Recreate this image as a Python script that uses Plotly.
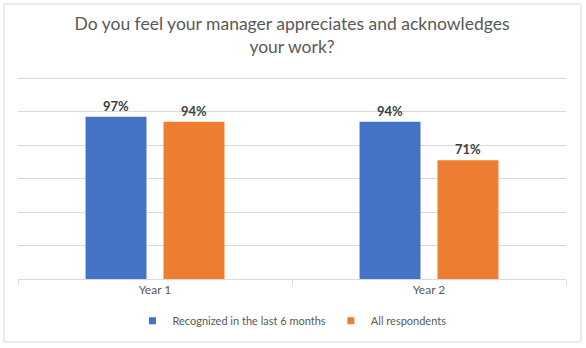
import plotly.graph_objects as go

# Survey results: share answering "yes", by year and respondent group
years = ["Year 1", "Year 2"]
series_names = ["Recognized in the last 6 months", "All respondents"]
recognized = [97, 94]
all_respondents = [94, 71]
series_values = [recognized, all_respondents]
series_colors = ["#4472C4", "#ED7D31"]

title_text = "Do you feel your manager appreciates and acknowledges<br>your work?"

fig = go.Figure()

for name, vals, color in zip(series_names, series_values, series_colors):
    fig.add_trace(go.Bar(
        x=years,
        y=vals,
        name=name,
        marker=dict(color=color, line=dict(width=0)),
        texttemplate="%{y}%",
        textposition="outside",
        textfont=dict(family="Lato", size=13, color="#404040", weight="bold"),
        cliponaxis=False,
        showlegend=False,
        hoverinfo="skip",
    ))

# Small square swatches for the legend
for name, color in zip(series_names, series_colors):
    fig.add_trace(go.Scatter(
        x=[None], y=[None], mode="markers", name=name,
        marker=dict(symbol="square", size=7, color=color),
        showlegend=True,
    ))

grid = "#D9D9D9"

fig.update_layout(
    width=586,
    height=348,
    margin=dict(l=18, r=20, t=75, b=69),
    paper_bgcolor="white",
    plot_bgcolor="white",
    barmode="group",
    bargap=0.431,
    bargroupgap=0.218,
    font=dict(family="Lato", color="#595959", size=12),
    title=dict(
        text=title_text,
        x=0.5,
        xanchor="center",
        xref="paper",
        y=0.914,
        yanchor="top",
        font=dict(family="Lato", size=17.5, color="#595959"),
    ),
    legend=dict(
        orientation="h",
        x=0.5,
        xanchor="center",
        y=-0.205,
        yanchor="middle",
        font=dict(family="Lato", size=11, color="#595959"),
        itemwidth=30,
        traceorder="normal",
    ),
    xaxis=dict(
        type="category",
        showline=True,
        linecolor=grid,
        linewidth=1,
        ticks="outside",
        tickson="boundaries",
        ticklen=5,
        tickcolor=grid,
        showgrid=False,
        tickfont=dict(family="Lato", size=12, color="#595959"),
        fixedrange=True,
    ),
    yaxis=dict(
        range=[0, 122],
        tick0=0,
        dtick=20,
        showgrid=True,
        gridcolor=grid,
        gridwidth=1,
        showticklabels=False,
        zeroline=False,
        showline=False,
        fixedrange=True,
    ),
    shapes=[
        dict(
            type="rect", xref="paper", yref="paper",
            x0=-0.0255, x1=1.0274, y0=-0.309, y1=1.348,
            line=dict(color=grid, width=1), fillcolor="rgba(0,0,0,0)",
            layer="below",
        )
    ],
)

fig.write_html("out.html")
